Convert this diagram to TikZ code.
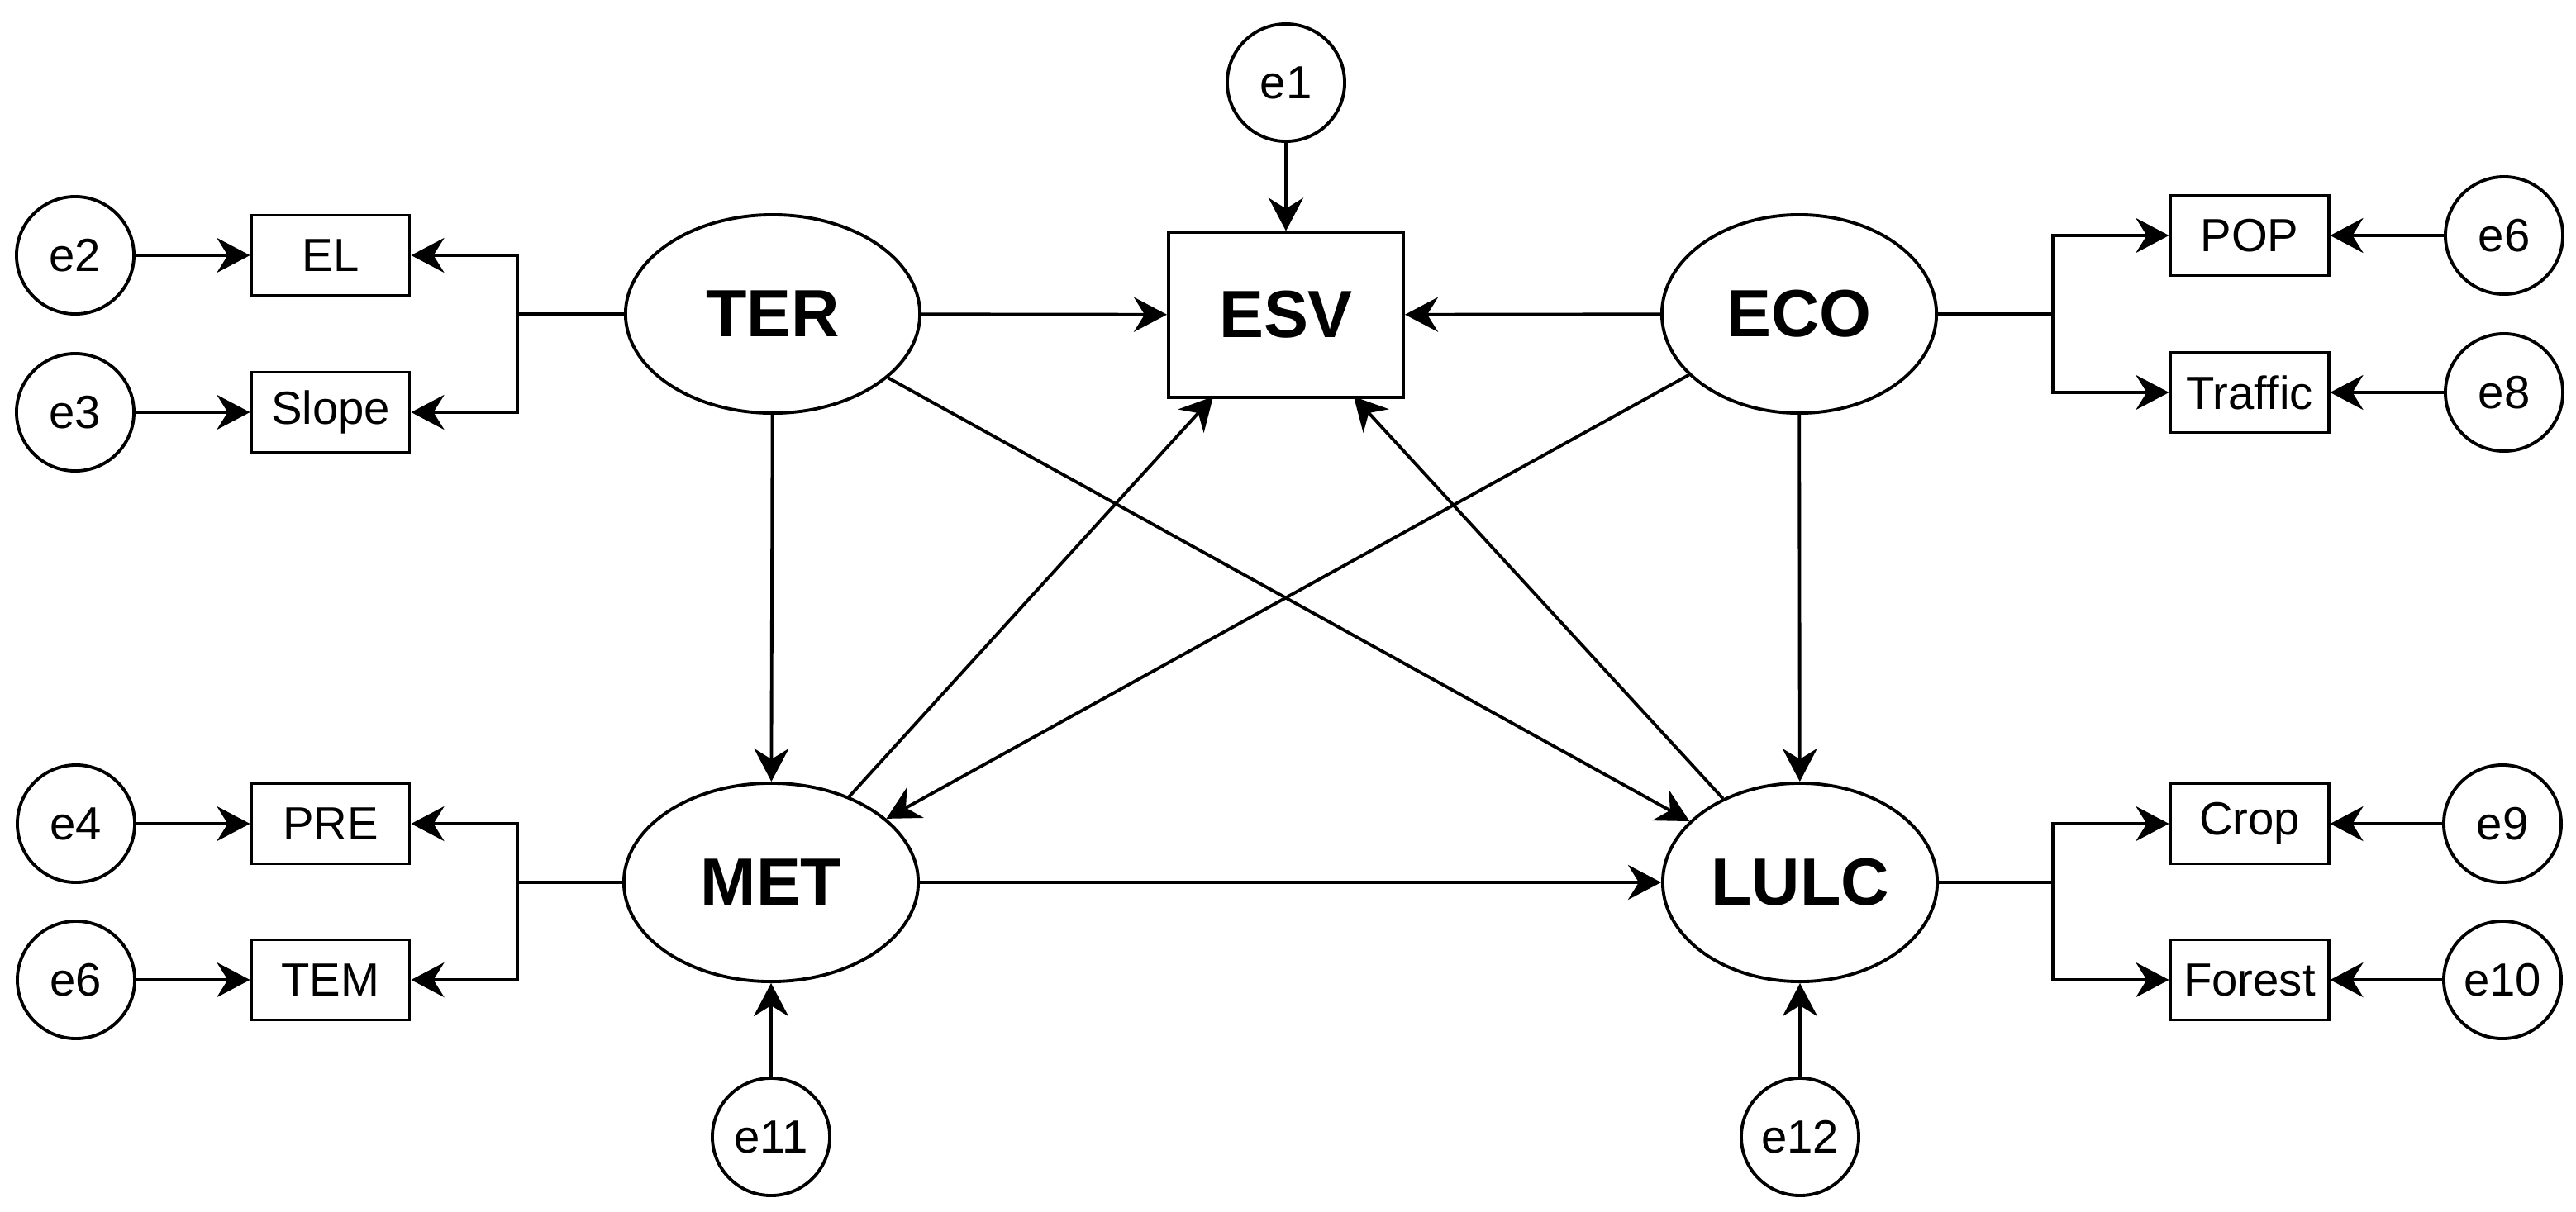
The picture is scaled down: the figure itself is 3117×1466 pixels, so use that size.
\documentclass[tikz,border=0pt]{standalone}
\usepackage{fontspec}
\setmainfont{Liberation Sans}
\usetikzlibrary{shapes.geometric,arrows.meta,calc}
\begin{document}
\begin{tikzpicture}[x=0.01cm,y=-0.01cm,
  every node/.style={font=\fontsize{16}{19}\selectfont, line width=1.1pt},
  latw/.style={draw, ellipse, minimum width=3.56cm, minimum height=2.4cm, inner sep=0pt, font=\fontsize{23}{27}\selectfont\bfseries},
  latn/.style={latw, minimum width=3.32cm},
  errc/.style={draw, circle, minimum size=1.42cm, inner sep=0pt},
  obsbox/.style={draw, rectangle, minimum width=1.91cm, minimum height=0.97cm, inner sep=0pt},
  arr/.style={-{Stealth[length=0.4cm,width=0.42cm,inset=0.13cm]}, line width=1.1pt},
  ln/.style={line width=1.1pt}]
\useasboundingbox (0,0) rectangle (3117,1466);

% latent variables
\node[latw] (TER) at (935,380) {TER};
\node[latw] (MET) at (933,1068) {MET};
\node[latn] (ECO) at (2177,380) {ECO};
\node[latn] (LULC) at (2178,1068) {LULC};
\node[draw, rectangle, minimum width=2.84cm, minimum height=1.99cm, inner sep=0pt, line width=1.1pt, font=\fontsize{23}{27}\selectfont\bfseries] (ESV) at (1556,381) {ESV};

% observed
\node[obsbox] (EL) at (400,309) {EL};
\node[obsbox] (Slope) at (400,499) {Slope};
\node[obsbox] (PRE) at (400,997) {PRE};
\node[obsbox] (TEM) at (400,1186) {TEM};
\node[obsbox] (POP) at (2722,285) {POP};
\node[obsbox] (Traffic) at (2722,475) {Traffic};
\node[obsbox] (Crop) at (2722,997) {Crop};
\node[obsbox] (Forest) at (2722,1186) {Forest};

% errors
\node[errc] (e1) at (1556,100) {e1};
\node[errc] (e2) at (91,309) {e2};
\node[errc] (e3) at (91,499) {e3};
\node[errc] (e4) at (92,997) {e4};
\node[errc] (e6a) at (92,1186) {e6};
\node[errc] (e6b) at (3030,285) {e6};
\node[errc] (e8) at (3030,475) {e8};
\node[errc] (e9) at (3028,997) {e9};
\node[errc] (e10) at (3028,1186) {e10};
\node[errc] (e11) at (933,1376) {e11};
\node[errc] (e12) at (2178,1376) {e12};

% bracket junctions
\coordinate (jT) at (626,380);
\coordinate (jM) at (626,1068);
\coordinate (jE) at (2484,380);
\coordinate (jL) at (2484,1068);
\coordinate (esvA) at (1468,480);
\coordinate (esvB) at (1638,480);

% error arrows
\draw[arr] (e1) -- (ESV);
\draw[arr] (e2) -- (EL);
\draw[arr] (e3) -- (Slope);
\draw[arr] (e4) -- (PRE);
\draw[arr] (e6a) -- (TEM);
\draw[arr] (e6b) -- (POP);
\draw[arr] (e8) -- (Traffic);
\draw[arr] (e9) -- (Crop);
\draw[arr] (e10) -- (Forest);
\draw[arr] (e11) -- (MET);
\draw[arr] (e12) -- (LULC);

% measurement brackets
\draw[ln] (TER) -- (jT);
\draw[arr] (jT) |- (EL);
\draw[arr] (jT) |- (Slope);
\draw[ln] (MET) -- (jM);
\draw[arr] (jM) |- (PRE);
\draw[arr] (jM) |- (TEM);
\draw[ln] (ECO) -- (jE);
\draw[arr] (jE) |- (POP);
\draw[arr] (jE) |- (Traffic);
\draw[ln] (LULC) -- (jL);
\draw[arr] (jL) |- (Crop);
\draw[arr] (jL) |- (Forest);

% structural paths
\draw[arr] (TER) -- (ESV);
\draw[arr] (ECO) -- (ESV);
\draw[arr] (TER) -- (MET);
\draw[arr] (ECO) -- (LULC);
\draw[arr] (TER) -- (LULC);
\draw[arr] (ECO) -- (MET);
\draw[arr] (MET) -- (esvA);
\draw[arr] (LULC) -- (esvB);
\draw[arr] (MET) -- (LULC);
\end{tikzpicture}
\end{document}
